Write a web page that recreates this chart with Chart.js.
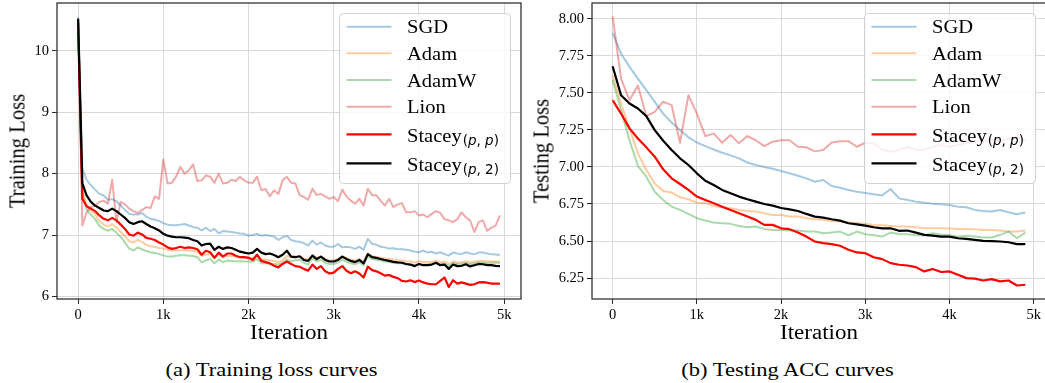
<!DOCTYPE html>
<html><head><meta charset="utf-8">
<script src="https://cdn.jsdelivr.net/npm/chart.js@4"></script>
<style>
html,body{margin:0;padding:0;background:#fff;overflow:hidden;width:1045px;height:383px;}
#wrap{position:relative;width:1045px;height:383px;overflow:hidden;}
canvas{position:absolute;top:0;}
.lbl{position:absolute;font-family:"Liberation Serif","Times New Roman",serif;color:#000;white-space:nowrap;line-height:1;}
</style></head><body><div id="wrap">
<canvas id="c1" width="525" height="330" style="left:0px;width:525px;height:330px"></canvas>
<canvas id="c2" width="525" height="330" style="left:525px;width:525px;height:330px"></canvas>
<div class="lbl" style="left:17px;top:151px;font-size:23px;transform:translate(-50%,-50%) rotate(-90deg) scaleX(0.895)">Training Loss</div>
<div class="lbl" style="left:541px;top:151px;font-size:23px;transform:translate(-50%,-50%) rotate(-90deg) scaleX(0.895)">Testing Loss</div>
<div class="lbl" style="left:289px;top:332px;font-size:23px;transform:translate(-50%,-50%) scaleY(0.88)">Iteration</div>
<div class="lbl" style="left:819px;top:332px;font-size:23px;transform:translate(-50%,-50%) scaleY(0.88)">Iteration</div>
<div class="lbl" style="left:271.5px;top:370px;font-size:22.5px;transform:translate(-50%,-50%) scaleY(0.88)">(a) Training loss curves</div>
<div class="lbl" style="left:787.5px;top:370px;font-size:22.5px;transform:translate(-50%,-50%) scaleY(0.88)">(b) Testing ACC curves</div>
</div>
<script>
// ---------- data ----------
const seriesNames = ['SGD','Adam','AdamW','Lion','Stacey','Stacey'];
const seriesSubs  = ['','','','','(p, p)','(p, 2)'];

const trainIters = [0,50,100,150,200,250,300,350,400,450,500,550,600,650,700,750,800,850,900,950,
1000,1050,1100,1150,1200,1250,1300,1350,1400,1450,1500,1550,1600,1650,1700,1750,1800,1850,1900,1950,
2000,2050,2100,2150,2200,2250,2300,2350,2400,2450,2500,2550,2600,2650,2700,2750,2800,2850,2900,2950,
3000,3050,3100,3150,3200,3250,3300,3350,3400,3450,3500,3550,3600,3650,3700,3750,3800,3850,3900,3950,
4000,4050,4100,4150,4200,4250,4300,4350,4400,4450,4500,4550,4600,4650,4700,4750,4800,4850,4900,4950];

const trainSGD = [10.55,8.08,7.90,7.81,7.74,7.67,7.645,7.575,7.585,7.55,
7.48,7.41,7.345,7.335,7.335,7.36,7.30,7.265,7.25,7.23,
7.195,7.17,7.16,7.16,7.17,7.18,7.155,7.13,7.12,7.075,
7.12,7.065,7.10,7.03,7.065,7.06,7.05,7.04,7.025,7.02,
6.99,7.00,7.02,6.99,7.00,6.99,6.975,6.92,6.965,6.99,
6.92,6.90,6.89,6.87,6.83,6.91,6.845,6.88,6.83,6.81,
6.81,6.855,6.80,6.81,6.80,6.775,6.81,6.76,6.94,6.855,
6.845,6.81,6.80,6.78,6.785,6.77,6.77,6.76,6.75,6.73,
6.72,6.75,6.715,6.73,6.70,6.72,6.69,6.665,6.715,6.70,
6.69,6.72,6.70,6.69,6.715,6.715,6.70,6.69,6.685,6.675];

const trainAdam = [10.50,7.75,7.48,7.40,7.34,7.23,7.17,7.14,7.18,7.13,
7.05,6.98,6.90,6.88,6.92,6.89,6.84,6.82,6.81,6.79,
6.78,6.76,6.75,6.75,6.755,6.755,6.75,6.745,6.73,6.665,
6.68,6.70,6.63,6.68,6.645,6.665,6.66,6.65,6.64,6.635,
6.63,6.625,6.665,6.61,6.60,6.59,6.58,6.555,6.59,6.66,
6.64,6.65,6.655,6.62,6.60,6.675,6.63,6.655,6.61,6.59,
6.59,6.61,6.655,6.625,6.60,6.585,6.61,6.57,6.70,6.655,
6.645,6.63,6.62,6.61,6.60,6.59,6.585,6.575,6.57,6.555,
6.575,6.56,6.56,6.565,6.585,6.56,6.565,6.53,6.57,6.555,
6.56,6.575,6.555,6.565,6.58,6.58,6.575,6.575,6.57,6.57];

const trainAdamW = [10.50,7.68,7.42,7.33,7.26,7.15,7.10,7.07,7.10,7.04,
6.97,6.88,6.78,6.75,6.80,6.77,6.74,6.72,6.71,6.69,
6.67,6.65,6.65,6.665,6.67,6.67,6.665,6.66,6.64,6.555,
6.59,6.61,6.54,6.60,6.56,6.585,6.58,6.575,6.575,6.57,
6.57,6.565,6.61,6.54,6.545,6.53,6.53,6.52,6.55,6.60,
6.57,6.59,6.60,6.55,6.52,6.62,6.57,6.60,6.55,6.53,
6.53,6.555,6.60,6.565,6.54,6.525,6.555,6.51,6.65,6.61,
6.60,6.585,6.57,6.56,6.55,6.54,6.54,6.525,6.52,6.51,
6.53,6.52,6.52,6.53,6.55,6.525,6.535,6.50,6.54,6.53,
6.535,6.545,6.53,6.54,6.555,6.55,6.545,6.55,6.55,6.55];

const trainLion = [10.50,7.155,7.37,7.455,7.48,7.54,7.56,7.51,7.90,7.21,
7.54,7.50,7.43,7.39,7.36,7.41,7.455,7.44,7.63,7.59,
8.23,7.84,7.85,7.95,8.11,8.00,8.05,8.15,7.88,7.89,
7.97,7.95,7.85,8.00,7.84,7.85,7.90,7.88,7.95,7.89,
7.85,7.85,7.95,7.73,7.75,7.63,7.73,7.67,7.89,7.95,
7.85,7.84,7.65,7.62,7.575,7.755,7.65,7.67,7.63,7.59,
7.62,7.55,7.74,7.63,7.56,7.51,7.59,7.48,7.755,7.65,
7.65,7.56,7.48,7.59,7.455,7.50,7.52,7.37,7.37,7.39,
7.32,7.335,7.29,7.345,7.39,7.36,7.26,7.24,7.21,7.26,
7.37,7.29,7.24,7.05,7.21,7.24,7.07,7.12,7.155,7.32];

const trainStaceyPP = [10.45,7.59,7.47,7.43,7.39,7.32,7.265,7.24,7.28,7.24,
7.17,7.10,7.01,6.99,7.04,7.01,6.955,6.94,6.92,6.88,
6.845,6.80,6.775,6.79,6.81,6.79,6.80,6.79,6.77,6.68,
6.745,6.72,6.63,6.715,6.65,6.70,6.70,6.665,6.64,6.64,
6.63,6.595,6.68,6.58,6.56,6.54,6.50,6.475,6.53,6.57,
6.53,6.495,6.485,6.45,6.42,6.52,6.45,6.495,6.41,6.375,
6.39,6.45,6.495,6.42,6.38,6.41,6.375,6.31,6.485,6.43,
6.41,6.38,6.34,6.35,6.32,6.30,6.255,6.245,6.265,6.235,
6.26,6.23,6.21,6.20,6.20,6.255,6.31,6.155,6.265,6.21,
6.23,6.21,6.19,6.20,6.23,6.235,6.225,6.21,6.21,6.21];

const trainStaceyP2 = [10.52,7.84,7.645,7.54,7.48,7.44,7.40,7.39,7.43,7.39,
7.335,7.28,7.21,7.18,7.21,7.225,7.18,7.14,7.11,7.075,
7.02,6.99,6.975,6.965,6.965,6.96,6.95,6.92,6.90,6.83,
6.855,6.86,6.76,6.81,6.775,6.80,6.79,6.76,6.73,6.715,
6.70,6.715,6.775,6.715,6.69,6.70,6.675,6.64,6.68,6.745,
6.65,6.64,6.655,6.595,6.58,6.665,6.61,6.65,6.595,6.57,
6.57,6.595,6.65,6.61,6.58,6.56,6.595,6.54,6.69,6.64,
6.63,6.61,6.595,6.58,6.565,6.555,6.55,6.53,6.52,6.495,
6.53,6.51,6.51,6.52,6.55,6.51,6.52,6.45,6.52,6.495,
6.50,6.525,6.49,6.51,6.53,6.525,6.51,6.51,6.50,6.495];

const testIters = [0,100,200,300,400,500,600,700,800,900,1000,1100,1200,1300,1400,1500,1600,1700,1800,1900,
2000,2100,2200,2300,2400,2500,2600,2700,2800,2900,3000,3100,3200,3300,3400,3500,3600,3700,3800,3900,
4000,4100,4200,4300,4400,4500,4600,4700,4800,4900];

const testSGD = [7.904,7.764,7.675,7.596,7.518,7.439,7.36,7.30,7.25,7.20,
7.165,7.14,7.118,7.096,7.078,7.058,7.03,7.013,7.0,6.988,
6.972,6.957,6.94,6.923,6.90,6.912,6.871,6.86,6.845,6.833,
6.824,6.815,6.808,6.851,6.788,6.777,6.766,6.759,6.752,6.748,
6.743,6.732,6.728,6.71,6.703,6.699,6.71,6.694,6.681,6.692];

const testAdam = [7.619,7.428,7.26,7.091,6.979,6.889,6.838,6.827,6.795,6.782,
6.759,6.755,6.737,6.728,6.721,6.71,6.703,6.699,6.687,6.676,
6.676,6.665,6.665,6.654,6.647,6.643,6.636,6.632,6.625,6.62,
6.616,6.609,6.607,6.602,6.598,6.598,6.593,6.586,6.586,6.586,
6.584,6.582,6.582,6.58,6.575,6.575,6.571,6.564,6.564,6.571];

const testAdamW = [7.585,7.383,7.181,7.006,6.934,6.833,6.777,6.732,6.71,6.683,
6.654,6.638,6.625,6.62,6.616,6.602,6.593,6.598,6.582,6.575,
6.575,6.571,6.571,6.564,6.564,6.553,6.557,6.564,6.539,6.564,
6.546,6.539,6.53,6.557,6.548,6.546,6.539,6.539,6.553,6.542,
6.539,6.53,6.535,6.53,6.524,6.524,6.542,6.564,6.519,6.557];

const testLion = [8.016,7.596,7.45,7.55,7.343,7.372,7.44,7.417,7.163,7.484,
7.36,7.208,7.226,7.163,7.215,7.159,7.208,7.18,7.14,7.17,
7.18,7.18,7.136,7.132,7.105,7.114,7.165,7.174,7.174,7.136,
7.163,7.159,7.114,7.103,7.114,7.136,7.114,7.114,7.136,7.148,
7.136,7.148,7.159,7.174,7.17,7.19,7.17,7.19,7.20,7.18];

const testStaceyPP = [7.45,7.36,7.26,7.192,7.132,7.069,6.984,6.923,6.885,6.845,
6.80,6.777,6.755,6.732,6.71,6.687,6.665,6.643,6.609,6.609,
6.586,6.58,6.557,6.53,6.497,6.486,6.479,6.468,6.441,6.423,
6.418,6.391,6.378,6.351,6.34,6.335,6.324,6.295,6.311,6.291,
6.295,6.272,6.25,6.246,6.234,6.243,6.228,6.234,6.20,6.205];

const testStaceyP2 = [7.679,7.484,7.428,7.394,7.343,7.248,7.177,7.114,7.058,7.013,
6.957,6.907,6.878,6.845,6.822,6.80,6.782,6.766,6.75,6.739,
6.723,6.714,6.703,6.683,6.665,6.658,6.647,6.638,6.62,6.613,
6.604,6.593,6.586,6.586,6.569,6.571,6.557,6.542,6.537,6.53,
6.53,6.519,6.515,6.508,6.501,6.499,6.497,6.492,6.479,6.479];

const xTickValues = [0,1000,2000,3000,4000,5000];
const trainYTicks = [6,7,8,9,10];
const testYTicks = [6.25,6.50,6.75,7.00,7.25,7.50,7.75,8.00];

// ---------- styles ----------
const colors = ['rgba(31,119,180,0.4)','rgba(255,127,14,0.4)','rgba(44,160,44,0.4)','rgba(214,39,40,0.4)','#ff0000','#000000'];
const widths = [2, 2, 2, 2, 2.2, 2.2];
const SERIF = '"Liberation Serif","Times New Roman",serif';

function makeDatasets(iters, arrays){
  return arrays.map((arr,i)=>({
    label: seriesNames[i] + (seriesSubs[i] ? ' ' + seriesSubs[i] : ''),
    data: arr.map((v,j)=>({x: iters[j], y: v})),
    borderColor: colors[i],
    backgroundColor: colors[i],
    borderWidth: widths[i],
    pointRadius: 0,
    tension: 0,
    fill: false,
    borderJoinStyle: 'round',
    borderCapStyle: 'butt',
    order: arrays.length - i
  }));
}

// draw a mathtext-like subscript: letters italic, rest upright
function drawSub(ctx, text, x, y){
  let cx = x;
  for (const ch of text) {
    const italic = /[a-z]/.test(ch);
    ctx.font = (italic ? 'oblique ' : '') + '13.5px "DejaVu Sans"';
    ctx.fillText(ch, cx, y);
    cx += ctx.measureText(ch).width;
  }
}

const framePlugin = {
  id: 'frameLegend',
  afterDatasetsDraw(chart){
    const ctx = chart.ctx, a = chart.chartArea;
    ctx.save();
    ctx.strokeStyle = '#2b2b2b';
    ctx.lineWidth = 1.25;
    ctx.strokeRect(a.left, a.top, a.right - a.left, a.bottom - a.top);
    const w = 171, h = 170;
    const x0 = a.right - 11 - w, y0 = a.top + 10;
    ctx.beginPath();
    ctx.roundRect(x0 + 0.5, y0 + 0.5, w, h, 4);
    ctx.fillStyle = 'rgba(255,255,255,0.8)';
    ctx.fill();
    ctx.strokeStyle = 'rgba(204,204,204,0.9)';
    ctx.lineWidth = 1;
    ctx.stroke();
    const rowY = [13.7, 40.3, 67, 93.7, 121.3, 150.3];
    seriesNames.forEach((name, i) => {
      const cy = y0 + rowY[i];
      ctx.beginPath();
      ctx.strokeStyle = colors[i];
      ctx.lineWidth = widths[i];
      ctx.moveTo(x0 + 7.5, cy);
      ctx.lineTo(x0 + 52.5, cy);
      ctx.stroke();
      ctx.fillStyle = '#000';
      ctx.textBaseline = 'alphabetic';
      ctx.textAlign = 'left';
      const base = cy + (seriesSubs[i] ? 7.4 : 6.6);
      ctx.save();
      ctx.translate(x0 + 68, base);
      ctx.scale(1, 0.87);
      ctx.font = '20.5px ' + SERIF;
      ctx.fillText(name, 0, 0);
      const nw = ctx.measureText(name).width;
      ctx.restore();
      if (seriesSubs[i]) {
        drawSub(ctx, seriesSubs[i], x0 + 68 + nw + 1, cy + 10.7);
      }
    });
    ctx.restore();
  }
};

function makeChart(id, iters, arrays, xMin, xMax, yMin, yMax, yTicks, yDigits, yWidth){
  return new Chart(document.getElementById(id), {
    type: 'line',
    data: { datasets: makeDatasets(iters, arrays) },
    options: {
      responsive: false,
      animation: false,
      events: [],
      layout: { padding: { top: 3, right: 4, left: 0, bottom: 0 } },
      plugins: { legend: { display: false }, tooltip: { enabled: false } },
      scales: {
        x: {
          type: 'linear', min: xMin, max: xMax,
          afterBuildTicks: s => { s.ticks = xTickValues.map(v => ({value: v})); },
          afterFit: s => { s.height = 31; s.paddingLeft = 0; s.paddingRight = 0; },
          ticks: { font: { family: SERIF, size: 14.5 }, color: '#000', padding: 2,
                   maxRotation: 0, autoSkip: false,
                   callback: v => v === 0 ? '0' : (v/1000) + 'k' },
          grid: { color: '#d9d9d9', lineWidth: 1, borderDash: [4,2], drawTicks: true,
                  tickLength: 5, tickColor: '#2b2b2b', tickWidth: 1, tickBorderDash: [] },
          border: { display: false }
        },
        y: {
          type: 'linear', min: yMin, max: yMax,
          afterBuildTicks: s => { s.ticks = yTicks.map(v => ({value: v})); },
          afterFit: s => { s.width = yWidth; s.paddingTop = 0; s.paddingBottom = 0; },
          ticks: { font: { family: SERIF, size: 14.5 }, color: '#000', padding: 3, autoSkip: false,
                   callback: v => Number(v).toFixed(yDigits) },
          grid: { color: '#d9d9d9', lineWidth: 1, borderDash: [4,2], drawTicks: true,
                  tickLength: 5, tickColor: '#2b2b2b', tickWidth: 1, tickBorderDash: [] },
          border: { display: false }
        }
      }
    },
    plugins: [framePlugin]
  });
}

makeChart('c1', trainIters,
  [trainSGD, trainAdam, trainAdamW, trainLion, trainStaceyPP, trainStaceyP2],
  -247.5, 5197.5, 5.96, 10.776, trainYTicks, 0, 57);
makeChart('c2', testIters,
  [testSGD, testAdam, testAdamW, testLion, testStaceyPP, testStaceyP2],
  -245, 5145, 6.109, 8.106, testYTicks, 2, 67);
</script>
</body></html>
